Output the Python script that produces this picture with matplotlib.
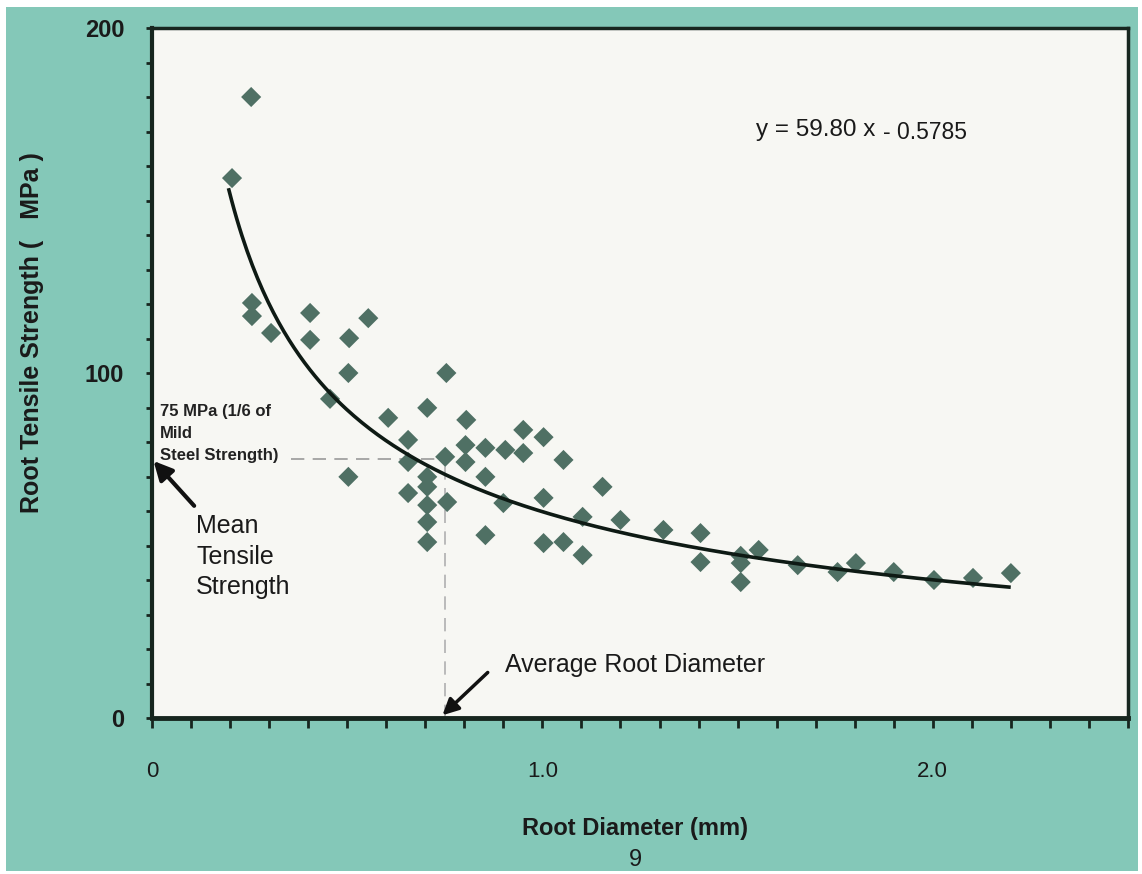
import numpy as np
import matplotlib.pyplot as plt
from matplotlib.patches import Rectangle
from matplotlib.ticker import MultipleLocator, FixedLocator, FixedFormatter

# root diameter (mm) / tensile strength (MPa)
diameter = [0.254, 0.205, 0.256, 0.256, 0.305, 0.405, 0.405, 0.505, 0.554, 0.503,
            0.754, 0.456, 0.605, 0.705, 0.805, 0.951, 1.003, 0.656, 0.803, 0.854,
            0.905, 0.951, 0.751, 0.803, 0.656, 1.054, 0.503, 0.705, 0.854, 0.705,
            0.656, 0.756, 0.705, 0.900, 1.003, 1.154, 0.705, 0.854, 0.705, 1.003,
            1.054, 1.103, 1.200, 1.103, 1.310, 1.405, 1.405, 1.508, 1.508, 1.508,
            1.554, 1.654, 1.756, 1.803, 1.900, 2.003, 2.103, 2.200]
strength = [180.0, 156.5, 120.3, 116.5, 111.6, 117.4, 109.6, 110.1, 115.9, 100.0,
            100.0, 92.5, 87.0, 89.9, 86.4, 83.5, 81.4, 80.6, 79.1, 78.3,
            77.7, 76.8, 75.7, 74.2, 74.2, 74.8, 69.9, 69.9, 69.9, 67.0,
            65.2, 62.6, 61.7, 62.3, 63.8, 67.0, 56.8, 53.0, 51.0, 50.7,
            51.0, 58.3, 57.4, 47.2, 54.5, 53.6, 45.2, 47.0, 44.9, 39.4,
            48.7, 44.3, 42.3, 44.9, 42.3, 40.0, 40.6, 42.0]

# power-law fit given on the chart: y = 59.80 x^-0.5785
fit_a = 59.80
fit_b = -0.5785
fit_range = [0.197, 2.195]

mean_strength = 75
mean_diameter = 0.75

BG = '#84c8b8'
NARROW = ['Liberation Sans Narrow', 'Liberation Sans', 'DejaVu Sans']
ARIAL = ['Liberation Sans', 'DejaVu Sans']
INK = '#1a1a1a'

fig = plt.figure(figsize=(11.42, 8.74), dpi=100)
fig.patch.set_facecolor('white')
fig.patches.append(Rectangle((6 / 1142, 3 / 874), 1132 / 1142, 864 / 874,
                             transform=fig.transFigure, facecolor=BG,
                             edgecolor='none', zorder=-10))

ax = fig.add_axes([152 / 1142, 156 / 874, 976 / 1142, 690 / 874])
ax.set_facecolor('#f7f7f3')
ax.set_xlim(0, 2.5)
ax.set_ylim(0, 200)

for s in ax.spines.values():
    s.set_color('#17261f')
    s.set_linewidth(2.5)
ax.spines['left'].set_linewidth(3)
ax.spines['bottom'].set_linewidth(3.5)

# reference lines
ax.plot([0.355, mean_diameter], [mean_strength, mean_strength], ls=(0, (8, 5)),
        color='#9a9a9a', lw=1.2, zorder=1)
ax.plot([mean_diameter, mean_diameter], [0, mean_strength], ls=(0, (8, 5)),
        color='#b0b0b0', lw=1.2, zorder=1)

ax.scatter(diameter, strength, marker='D', s=105, color='#4f7064',
           edgecolors='none', zorder=3)

xf = np.linspace(fit_range[0], fit_range[1], 300)
ax.plot(xf, fit_a * xf ** fit_b, color='#0e1a14', lw=2.6, zorder=4)

# ticks
ax.xaxis.set_major_locator(FixedLocator([0, 1.0, 2.0]))
ax.xaxis.set_major_formatter(FixedFormatter(['0', '1.0', '2.0']))
ax.xaxis.set_minor_locator(MultipleLocator(0.1))
ax.yaxis.set_major_locator(FixedLocator([0, 100, 200]))
ax.yaxis.set_major_formatter(FixedFormatter(['0', '100', '200']))
ax.yaxis.set_minor_locator(MultipleLocator(10))
ax.tick_params(axis='x', which='both', direction='out', length=7, width=2,
               color='#17261f', pad=24)
ax.tick_params(axis='y', which='both', direction='out', length=4, width=2,
               color='#17261f', pad=16)
for lab in ax.get_xticklabels():
    lab.set_fontfamily(NARROW)
    lab.set_fontsize(16)
    lab.set_color(INK)
for lab in ax.get_yticklabels():
    lab.set_fontfamily(ARIAL)
    lab.set_fontsize(17)
    lab.set_fontweight('bold')
    lab.set_color(INK)

# annotations
ax.text(0.02, 82.5, '75 MPa (1/6 of\nMild\nSteel Strength)', fontsize=12,
        fontweight='bold', family=NARROW, color='#222222', va='center',
        ha='left', linespacing=1.6)
ax.annotate('', xy=(0.004, 74.5), xytext=(0.108, 61.5),
            arrowprops=dict(arrowstyle='-|>', lw=3, color='#111111',
                            mutation_scale=28, shrinkA=0, shrinkB=0))
ax.text(0.113, 46.8, 'Mean\nTensile\nStrength', fontsize=18, family=ARIAL,
        color=INK, va='center', ha='left', linespacing=1.32)
ax.annotate('', xy=(0.744, 0.8), xytext=(0.86, 13.2),
            arrowprops=dict(arrowstyle='-|>', lw=2.5, color='#111111',
                            mutation_scale=24, shrinkA=0, shrinkB=0))
ax.text(0.905, 15.5, 'Average Root Diameter', fontsize=18, family=NARROW,
        color=INK, va='center', ha='left')
ax.text(1.546, 170.3, 'y = 59.80 x', fontsize=17.5, family=ARIAL,
        color=INK, va='center', ha='left')
ax.text(1.872, 169.8, '- 0.5785', fontsize=16.5, family=ARIAL,
        color=INK, va='center', ha='left')

fig.text(32 / 1142, 1 - 333 / 874, 'Root Tensile Strength (   MPa )', rotation=90,
         fontsize=18, fontweight='bold', family=NARROW, color=INK,
         ha='center', va='center')
fig.text(635 / 1142, 1 - 828 / 874, 'Root Diameter (mm)', fontsize=17,
         fontweight='bold', family=NARROW, color=INK,
         ha='center', va='center')
fig.text(635 / 1142, 1 - 860 / 874, '9', fontsize=17, family=NARROW,
         color=INK, ha='center', va='center')

fig.savefig('out.png', dpi=100, facecolor=fig.get_facecolor())
